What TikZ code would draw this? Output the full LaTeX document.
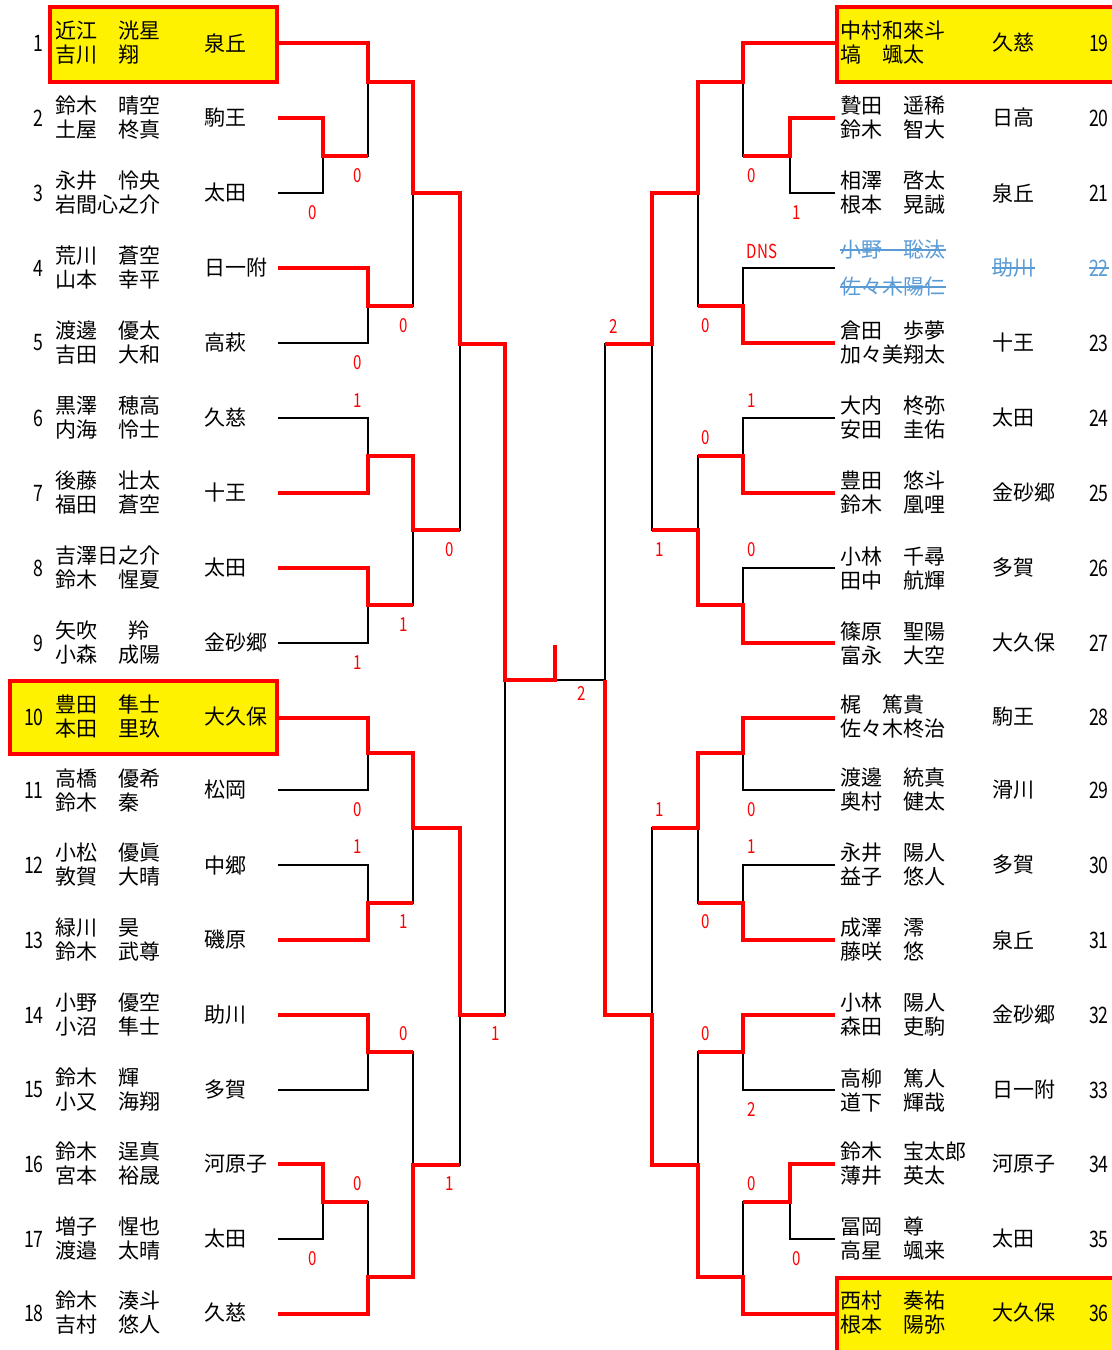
\documentclass[tikz,border=0pt]{standalone}
\usepackage{fontspec}
\setmainfont{Noto Sans CJK JP}
\newfontfamily\numfont[FakeStretch=0.78]{Noto Sans CJK JP}
\usepackage{tikz}
\definecolor{dnsblue}{RGB}{91,155,213}

\begin{document}
\begin{tikzpicture}
		[x=0.75pt,y=-0.75pt,
		lose line/.style={draw=black,line width=1.8pt},
		win line/.style={draw=red,line width=3.4pt},
		seed box/.style={draw=red,fill=yellow,line width=3.4pt},
		name node/.style={anchor=west,inner sep=0pt,align=left,font=\fontsize{15.75}{18}\selectfont},
		school node/.style={anchor=west,inner sep=0pt,font=\fontsize{15.75}{18}\selectfont},
		num node/.style={anchor=east,inner sep=0pt,font=\numfont\fontsize{17}{18}\selectfont},
		score label/.style={text=red,inner sep=0pt,font=\numfont\fontsize{14.5}{16}\selectfont},
		gone/.style={text=dnsblue},
		strike/.style={draw=dnsblue,line width=0.9pt}]
		\useasboundingbox (0,0) rectangle (1111,1350);
		
		% seeded players
		\draw[seed box] (50,7) rectangle (277,82);
		\draw[seed box] (10,681) rectangle (277,754);
		\draw[seed box] (837,7) rectangle (1116,82);
		\draw[seed box] (837,1278) rectangle (1116,1356);
		
		% line ends of the players
		\coordinate (p1) at (278,43);   \coordinate (p19) at (835,43);
		\coordinate (p2) at (278,118);  \coordinate (p20) at (835,118);
		\coordinate (p3) at (278,193);  \coordinate (p21) at (835,193);
		\coordinate (p4) at (278,268);  \coordinate (p22) at (835,268);
		\coordinate (p5) at (278,343);  \coordinate (p23) at (835,343);
		\coordinate (p6) at (278,418);  \coordinate (p24) at (835,418);
		\coordinate (p7) at (278,493);  \coordinate (p25) at (835,493);
		\coordinate (p8) at (278,568);  \coordinate (p26) at (835,568);
		\coordinate (p9) at (278,643);  \coordinate (p27) at (835,643);
		\coordinate (p10) at (278,718); \coordinate (p28) at (835,718);
		\coordinate (p11) at (278,790); \coordinate (p29) at (835,790);
		\coordinate (p12) at (278,865); \coordinate (p30) at (835,865);
		\coordinate (p13) at (278,940); \coordinate (p31) at (835,940);
		\coordinate (p14) at (278,1015); \coordinate (p32) at (835,1015);
		\coordinate (p15) at (278,1090); \coordinate (p33) at (835,1090);
		\coordinate (p16) at (278,1164); \coordinate (p34) at (835,1164);
		\coordinate (p17) at (278,1239); \coordinate (p35) at (835,1239);
		\coordinate (p18) at (278,1314); \coordinate (p36) at (835,1314);
		
		% matches
		\coordinate (a1) at (323,156);  \coordinate (a3) at (790,156);
		\coordinate (b1) at (368,82);   \coordinate (b9) at (743,82);
		\coordinate (b2) at (368,306);  \coordinate (b10) at (743,306);
		\coordinate (c1) at (413,193);  \coordinate (c5) at (698,193);
		\coordinate (b3) at (368,456);  \coordinate (b11) at (743,456);
		\coordinate (b4) at (368,605);  \coordinate (b12) at (743,605);
		\coordinate (c2) at (413,530);  \coordinate (c6) at (698,530);
		\coordinate (d1) at (460,344);  \coordinate (d3) at (652,344);
		\coordinate (b5) at (368,753);  \coordinate (b13) at (743,753);
		\coordinate (b6) at (368,903);  \coordinate (b14) at (743,903);
		\coordinate (c3) at (413,828);  \coordinate (c7) at (698,828);
		\coordinate (b7) at (368,1052); \coordinate (b15) at (743,1052);
		\coordinate (a2) at (323,1202); \coordinate (a4) at (790,1202);
		\coordinate (b8) at (368,1277); \coordinate (b16) at (743,1277);
		\coordinate (c4) at (413,1165); \coordinate (c8) at (698,1165);
		\coordinate (d2) at (460,1015); \coordinate (d4) at (652,1015);
		\coordinate (e1) at (505,680);  \coordinate (e2) at (605,680);
		\coordinate (final) at (555,680);
		\coordinate (champ) at (555,645);
		
		\draw[lose line]
		(p1) -| (b1) (p2) -| (a1) (p3) -| (a1) (a1) -| (b1)
		(p4) -| (b2) (p5) -| (b2) (b1) -| (c1) (b2) -| (c1)
		(p6) -| (b3) (p7) -| (b3) (p8) -| (b4) (p9) -| (b4)
		(b3) -| (c2) (b4) -| (c2) (c1) -| (d1) (c2) -| (d1)
		(p10) -| (b5) (p11) -| (b5) (p12) -| (b6) (p13) -| (b6)
		(b5) -| (c3) (b6) -| (c3) (p14) -| (b7) (p15) -| (b7)
		(p16) -| (a2) (p17) -| (a2) (a2) -| (b8) (p18) -| (b8)
		(b7) -| (c4) (b8) -| (c4) (c3) -| (d2) (c4) -| (d2)
		(d1) -| (e1) (d2) -| (e1) (e1) -- (final) (e2) -- (final)
		(p19) -| (b9) (p20) -| (a3) (p21) -| (a3) (a3) -| (b9)
		(p22) -| (b10) (p23) -| (b10) (b9) -| (c5) (b10) -| (c5)
		(p24) -| (b11) (p25) -| (b11) (p26) -| (b12) (p27) -| (b12)
		(b11) -| (c6) (b12) -| (c6) (c5) -| (d3) (c6) -| (d3)
		(p28) -| (b13) (p29) -| (b13) (p30) -| (b14) (p31) -| (b14)
		(b13) -| (c7) (b14) -| (c7) (p32) -| (b15) (p33) -| (b15)
		(p34) -| (a4) (p35) -| (a4) (a4) -| (b16) (p36) -| (b16)
		(b15) -| (c8) (b16) -| (c8) (c7) -| (d4) (c8) -| (d4)
		(d3) -| (e2) (d4) -| (e2);
		
		% winners
		\draw[win line] (p1) -| (b1) -| (c1) -| (d1) -| (e1) -| (champ);
		\draw[win line] (p2) -| (a1) -- (a1 -| b1);
		\draw[win line] (p4) -| (b2) -- (b2 -| c1);
		\draw[win line] (p7) -| (b3) -| (c2) -- (c2 -| d1);
		\draw[win line] (p8) -| (b4) -- (b4 -| c2);
		\draw[win line] (p10) -| (b5) -| (c3) -| (d2) -- (d2 -| e1);
		\draw[win line] (p13) -| (b6) -- (b6 -| c3);
		\draw[win line] (p14) -| (b7) -- (b7 -| c4);
		\draw[win line] (p16) -| (a2) -- (a2 -| b8);
		\draw[win line] (p18) -| (b8) -| (c4) -- (c4 -| d2);
		\draw[win line] (p19) -| (b9) -| (c5) -| (d3) -- (d3 -| e2);
		\draw[win line] (p20) -| (a3) -- (a3 -| b9);
		\draw[win line] (p23) -| (b10) -- (b10 -| c5);
		\draw[win line] (p25) -| (b11) -- (b11 -| c6);
		\draw[win line] (p27) -| (b12) -| (c6) -- (c6 -| d3);
		\draw[win line] (p28) -| (b13) -| (c7) -- (c7 -| d4);
		\draw[win line] (p31) -| (b14) -- (b14 -| c7);
		\draw[win line] (p32) -| (b15) -- (b15 -| c8);
		\draw[win line] (p34) -| (a4) -- (a4 -| b16);
		\draw[win line] (p36) -| (b16) -| (c8) -| (d4) -| (e2);
		
		% left players
		\node[num node] (k1) at (44,43) {1};
		\node[name node] (n1) at (55,43) {近江　洸星\\吉川　翔};
		\node[school node] (s1) at (204,43) {泉丘};
		\node[num node] (k2) at (44,118) {2};
		\node[name node] (n2) at (55,118) {鈴木　晴空\\土屋　柊真};
		\node[school node] (s2) at (204,118) {駒王};
		\node[num node] (k3) at (44,193) {3};
		\node[name node] (n3) at (55,193) {永井　怜央\\岩間心之介};
		\node[school node] (s3) at (204,193) {太田};
		\node[num node] (k4) at (44,268) {4};
		\node[name node] (n4) at (55,268) {荒川　蒼空\\山本　幸平};
		\node[school node] (s4) at (204,268) {日一附};
		\node[num node] (k5) at (44,343) {5};
		\node[name node] (n5) at (55,343) {渡邊　優太\\吉田　大和};
		\node[school node] (s5) at (204,343) {高萩};
		\node[num node] (k6) at (44,418) {6};
		\node[name node] (n6) at (55,418) {黒澤　穂高\\内海　怜士};
		\node[school node] (s6) at (204,418) {久慈};
		\node[num node] (k7) at (44,493) {7};
		\node[name node] (n7) at (55,493) {後藤　壮太\\福田　蒼空};
		\node[school node] (s7) at (204,493) {十王};
		\node[num node] (k8) at (44,568) {8};
		\node[name node] (n8) at (55,568) {吉澤日之介\\鈴木　惺夏};
		\node[school node] (s8) at (204,568) {太田};
		\node[num node] (k9) at (44,643) {9};
		\node[name node] (n9) at (55,643) {矢吹　\hspace{.5em}羚\\小森　成陽};
		\node[school node] (s9) at (204,643) {金砂郷};
		\node[num node] (k10) at (44,717) {10};
		\node[name node] (n10) at (55,717) {豊田　隼士\\本田　里玖};
		\node[school node] (s10) at (204,717) {大久保};
		\node[num node] (k11) at (44,790) {11};
		\node[name node] (n11) at (55,790) {高橋　優希\\鈴木　秦};
		\node[school node] (s11) at (204,790) {松岡};
		\node[num node] (k12) at (44,865) {12};
		\node[name node] (n12) at (55,865) {小松　優眞\\敦賀　大晴};
		\node[school node] (s12) at (204,865) {中郷};
		\node[num node] (k13) at (44,940) {13};
		\node[name node] (n13) at (55,940) {緑川　昊\\鈴木　武尊};
		\node[school node] (s13) at (204,940) {磯原};
		\node[num node] (k14) at (44,1015) {14};
		\node[name node] (n14) at (55,1015) {小野　優空\\小沼　隼士};
		\node[school node] (s14) at (204,1015) {助川};
		\node[num node] (k15) at (44,1090) {15};
		\node[name node] (n15) at (55,1090) {鈴木　輝\\小又　海翔};
		\node[school node] (s15) at (204,1090) {多賀};
		\node[num node] (k16) at (44,1164) {16};
		\node[name node] (n16) at (55,1164) {鈴木　逞真\\宮本　裕晟};
		\node[school node] (s16) at (204,1164) {河原子};
		\node[num node] (k17) at (44,1239) {17};
		\node[name node] (n17) at (55,1239) {増子　惺也\\渡邉　太晴};
		\node[school node] (s17) at (204,1239) {太田};
		\node[num node] (k18) at (44,1313) {18};
		\node[name node] (n18) at (55,1313) {鈴木　湊斗\\吉村　悠人};
		\node[school node] (s18) at (204,1313) {久慈};
		
		% right players
		\node[name node] (n19) at (840,43) {中村和來斗\\塙　颯太};
		\node[school node] (s19) at (992,43) {久慈};
		\node[num node] (k19) at (1109,43) {19};
		\node[name node] (n20) at (840,118) {贄田　遥稀\\鈴木　智大};
		\node[school node] (s20) at (992,118) {日高};
		\node[num node] (k20) at (1109,118) {20};
		\node[name node] (n21) at (840,193) {相澤　啓太\\根本　晃誠};
		\node[school node] (s21) at (992,193) {泉丘};
		\node[num node] (k21) at (1109,193) {21};
		\node[name node,gone] (n22a) at (840,250) {小野　聡汰};
		\node[name node,gone] (n22b) at (840,287) {佐々木陽仁};
		\node[school node,gone] (s22) at (992,268) {助川};
		\node[num node,gone] (k22) at (1109,268) {22};
		\draw[strike] (n22a.west) -- (n22a.east);
		\draw[strike] (n22b.west) -- (n22b.east);
		\draw[strike] (s22.west) -- (s22.east);
		\draw[strike] (k22.west) -- (k22.east);
		\node[name node] (n23) at (840,343) {倉田　歩夢\\加々美翔太};
		\node[school node] (s23) at (992,343) {十王};
		\node[num node] (k23) at (1109,343) {23};
		\node[name node] (n24) at (840,418) {大内　柊弥\\安田　圭佑};
		\node[school node] (s24) at (992,418) {太田};
		\node[num node] (k24) at (1109,418) {24};
		\node[name node] (n25) at (840,493) {豊田　悠斗\\鈴木　凰哩};
		\node[school node] (s25) at (992,493) {金砂郷};
		\node[num node] (k25) at (1109,493) {25};
		\node[name node] (n26) at (840,568) {小林　千尋\\田中　航輝};
		\node[school node] (s26) at (992,568) {多賀};
		\node[num node] (k26) at (1109,568) {26};
		\node[name node] (n27) at (840,643) {篠原　聖陽\\富永　大空};
		\node[school node] (s27) at (992,643) {大久保};
		\node[num node] (k27) at (1109,643) {27};
		\node[name node] (n28) at (840,717) {梶　篤貴\\佐々木柊治};
		\node[school node] (s28) at (992,717) {駒王};
		\node[num node] (k28) at (1109,717) {28};
		\node[name node] (n29) at (840,790) {渡邊　統真\\奥村　健太};
		\node[school node] (s29) at (992,790) {滑川};
		\node[num node] (k29) at (1109,790) {29};
		\node[name node] (n30) at (840,865) {永井　陽人\\益子　悠人};
		\node[school node] (s30) at (992,865) {多賀};
		\node[num node] (k30) at (1109,865) {30};
		\node[name node] (n31) at (840,940) {成澤　澪\\藤咲　悠};
		\node[school node] (s31) at (992,940) {泉丘};
		\node[num node] (k31) at (1109,940) {31};
		\node[name node] (n32) at (840,1015) {小林　陽人\\森田　吏駒};
		\node[school node] (s32) at (992,1015) {金砂郷};
		\node[num node] (k32) at (1109,1015) {32};
		\node[name node] (n33) at (840,1090) {高柳　篤人\\道下　輝哉};
		\node[school node] (s33) at (992,1090) {日一附};
		\node[num node] (k33) at (1109,1090) {33};
		\node[name node] (n34) at (840,1164) {鈴木　宝太郎\\薄井　英太};
		\node[school node] (s34) at (992,1164) {河原子};
		\node[num node] (k34) at (1109,1164) {34};
		\node[name node] (n35) at (840,1239) {冨岡　尊\\高星　颯来};
		\node[school node] (s35) at (992,1239) {太田};
		\node[num node] (k35) at (1109,1239) {35};
		\node[name node] (n36) at (840,1313) {西村　奏祐\\根本　陽弥};
		\node[school node] (s36) at (992,1313) {大久保};
		\node[num node] (k36) at (1109,1313) {36};
		
		% scores
		\node[score label] (r1) at (358,176) {0};
		\node[score label] (r2) at (313,213) {0};
		\node[score label] (r3) at (404,326) {0};
		\node[score label] (r4) at (358,363) {0};
		\node[score label] (r5) at (358,401) {1};
		\node[score label] (r6) at (450,550) {0};
		\node[score label] (r7) at (404,625) {1};
		\node[score label] (r8) at (358,663) {1};
		\node[score label] (r9) at (358,810) {0};
		\node[score label] (r10) at (358,847) {1};
		\node[score label] (r11) at (404,922) {1};
		\node[score label] (r12) at (404,1034) {0};
		\node[score label] (r13) at (496,1034) {1};
		\node[score label] (r14) at (358,1184) {0};
		\node[score label] (r15) at (450,1184) {1};
		\node[score label] (r16) at (313,1259) {0};
		\node[score label] (r17) at (582,693) {2};
		\node[score label] (r18) at (752,176) {0};
		\node[score label] (r19) at (797,213) {1};
		\node[score label] (r20) at (762,251) {DNS};
		\node[score label] (r21) at (706,326) {0};
		\node[score label] (r22) at (614,326) {2};
		\node[score label] (r23) at (752,401) {1};
		\node[score label] (r24) at (706,438) {0};
		\node[score label] (r25) at (660,550) {1};
		\node[score label] (r26) at (752,550) {0};
		\node[score label] (r27) at (752,810) {0};
		\node[score label] (r28) at (660,810) {1};
		\node[score label] (r29) at (752,847) {1};
		\node[score label] (r30) at (706,922) {0};
		\node[score label] (r31) at (706,1034) {0};
		\node[score label] (r32) at (752,1109) {2};
		\node[score label] (r33) at (752,1184) {0};
		\node[score label] (r34) at (797,1259) {0};
\end{tikzpicture}
\end{document}
